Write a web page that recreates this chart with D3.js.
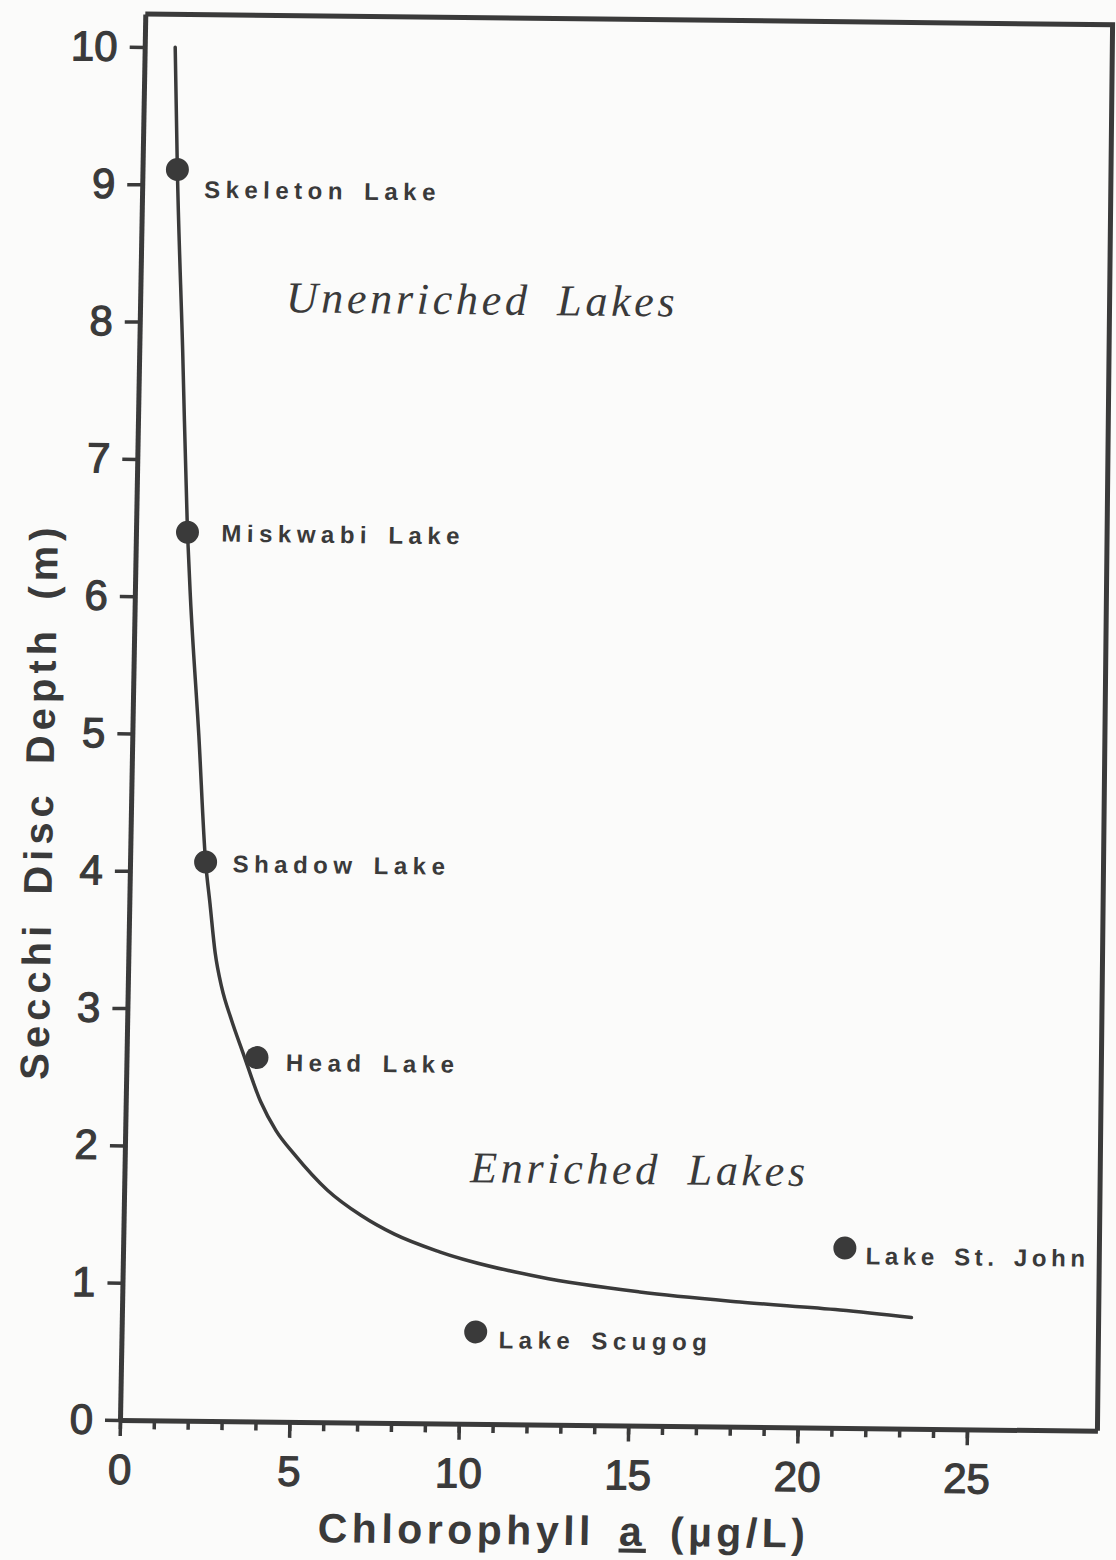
<!DOCTYPE html>
<html>
<head>
<meta charset="utf-8">
<script src="https://cdn.jsdelivr.net/npm/d3@7/dist/d3.min.js"></script>
<style>
  html, body { margin: 0; padding: 0; background: #fbfbfa; }
  svg { display: block; }
  .tick text { font-family: "Liberation Sans", Arial, sans-serif; }
</style>
</head>
<body>
<svg id="chart" width="1116" height="1560"></svg>
<script>
// fitted curve (chlorophyll a vs Secchi depth)
const chlCurve = [0.90, 1.03, 1.28, 1.52, 1.64, 1.96, 2.23, 2.38, 2.56, 2.77, 3.08, 3.44, 3.98, 4.45, 5.0, 6.0, 7.0, 8.0, 9.34, 12.31, 15.27, 18.23, 21.19, 23.3];
const sdCurve  = [10.0, 9.10, 7.80, 6.47, 6.00, 5.00, 4.07, 3.77, 3.41, 3.16, 2.92, 2.68, 2.33, 2.12, 1.95, 1.69, 1.51, 1.375, 1.25, 1.075, 0.974, 0.909, 0.859, 0.81];

// individual lakes
const lakeNames = ["Skeleton Lake", "Miskwabi Lake", "Shadow Lake", "Head Lake", "Lake Scugog", "Lake St. John"];
const lakeChl   = [1.03, 1.52, 2.23, 3.85, 10.45, 21.3];
const lakeSd    = [9.11, 6.47, 4.07, 2.65, 0.67, 1.31];

const xTicks = [0, 5, 10, 15, 20, 25];
const xMinor = d3.range(0, 26);
const yTicks = [0, 1, 2, 3, 4, 5, 6, 7, 8, 9, 10];

// label placement (pixels from the dot) and letter spacing
const labelDx = [27, 34, 27, 29, 23, 21];
const labelDy = [28, 9, 10, 13, 16, 16];
const labelSpacing = [5.5, 5.5, 5.5, 5.5, 5.5, 4.6];

const ink = "#3a3a3a";
const svg = d3.select("#chart");

// the scanned figure sits slightly sheared on the page
const g = svg.append("g")
  .attr("transform", "matrix(1,0.011,-0.018,1,120,1420)");

const xMax = 28.85, yMax = 10.24;
const x = d3.scaleLinear().domain([0, xMax]).range([0, xMax * 33.88]);
const y = d3.scaleLinear().domain([0, yMax]).range([0, -yMax * 137.3]);

// frame: top and right edges (the right edge leans a little in the scan)
g.append("path")
  .attr("d", `M${x(0)},${y(yMax)}H${x(28.55)}L${x(xMax)},${y(0)}`)
  .attr("fill", "none")
  .attr("stroke", ink)
  .attr("stroke-width", 5)
  .attr("stroke-linejoin", "miter");

// x axis, minor ticks then major ticks
g.append("g")
  .call(d3.axisBottom(x).tickValues(xMinor).tickSize(9).tickSizeOuter(0).tickFormat(""))
  .call(a => a.select(".domain").attr("stroke", ink).attr("stroke-width", 5))
  .call(a => a.selectAll(".tick line").attr("stroke", ink).attr("stroke-width", 3.5));

g.append("g")
  .call(d3.axisBottom(x).tickValues(xTicks).tickSize(16).tickSizeOuter(0).tickPadding(18))
  .call(a => a.select(".domain").remove())
  .call(a => a.selectAll(".tick line").attr("stroke", ink).attr("stroke-width", 3.5))
  .call(a => a.selectAll(".tick text")
    .attr("fill", ink).attr("stroke", ink).attr("stroke-width", 1.2)
    .attr("font-size", 42));

// y axis
g.append("g")
  .call(d3.axisLeft(y).tickValues(yTicks).tickSize(15).tickSizeOuter(0).tickPadding(12))
  .call(a => a.select(".domain").attr("stroke", ink).attr("stroke-width", 5))
  .call(a => a.selectAll(".tick line").attr("stroke", ink).attr("stroke-width", 3.5))
  .call(a => a.selectAll(".tick text")
    .attr("fill", ink).attr("stroke", ink).attr("stroke-width", 1.2)
    .attr("font-size", 42));

// curve
const line = d3.line()
  .x((d, i) => x(chlCurve[i]))
  .y((d, i) => y(sdCurve[i]))
  .curve(d3.curveMonotoneX);

g.append("path")
  .datum(chlCurve)
  .attr("d", line)
  .attr("fill", "none")
  .attr("stroke", ink)
  .attr("stroke-width", 3.5)
  .attr("stroke-linecap", "round");

// lakes
const lake = g.selectAll(".lake")
  .data(lakeNames)
  .enter().append("g")
  .attr("class", "lake");

lake.append("circle")
  .attr("cx", (d, i) => x(lakeChl[i]))
  .attr("cy", (d, i) => y(lakeSd[i]))
  .attr("r", 11.5)
  .attr("fill", ink);

lake.append("text")
  .attr("x", (d, i) => x(lakeChl[i]) + labelDx[i])
  .attr("y", (d, i) => y(lakeSd[i]) + labelDy[i])
  .attr("font-family", "'Liberation Sans', Arial, sans-serif")
  .attr("font-weight", "bold")
  .attr("font-size", 24)
  .attr("letter-spacing", (d, i) => labelSpacing[i])
  .attr("word-spacing", 4)
  .attr("fill", ink)
  .text(d => d);

// region labels
const regions = [
  { text: "Unenriched Lakes", chl: 4.3, sd: 8.08 },
  { text: "Enriched Lakes", chl: 10.2, sd: 1.76 }
];
g.selectAll(".region")
  .data(regions)
  .enter().append("text")
  .attr("class", "region")
  .attr("x", d => x(d.chl))
  .attr("y", d => y(d.sd))
  .attr("font-family", "'Liberation Serif', 'DejaVu Serif', serif")
  .attr("font-style", "italic")
  .attr("font-size", 44)
  .attr("letter-spacing", 3.7)
  .attr("word-spacing", 12)
  .attr("fill", ink)
  .text(d => d.text);

// axis titles
const xt = g.append("text")
  .attr("x", x(13.15))
  .attr("y", 120)
  .attr("text-anchor", "middle")
  .attr("font-family", "'Liberation Sans', Arial, sans-serif")
  .attr("font-weight", "bold")
  .attr("font-size", 41)
  .attr("letter-spacing", 4.5)
  .attr("word-spacing", 8)
  .attr("fill", ink);
xt.append("tspan").text("Chlorophyll ");
xt.append("tspan").attr("text-decoration", "underline").text("a");
xt.append("tspan").text(" (µg/L)");

g.append("text")
  .attr("transform", `translate(-78,${y(4.5)}) rotate(-90)`)
  .attr("text-anchor", "middle")
  .attr("font-family", "'Liberation Sans', Arial, sans-serif")
  .attr("font-weight", "bold")
  .attr("font-size", 40)
  .attr("letter-spacing", 5)
  .attr("word-spacing", 10)
  .attr("fill", ink)
  .text("Secchi Disc Depth (m)");
</script>
</body>
</html>
